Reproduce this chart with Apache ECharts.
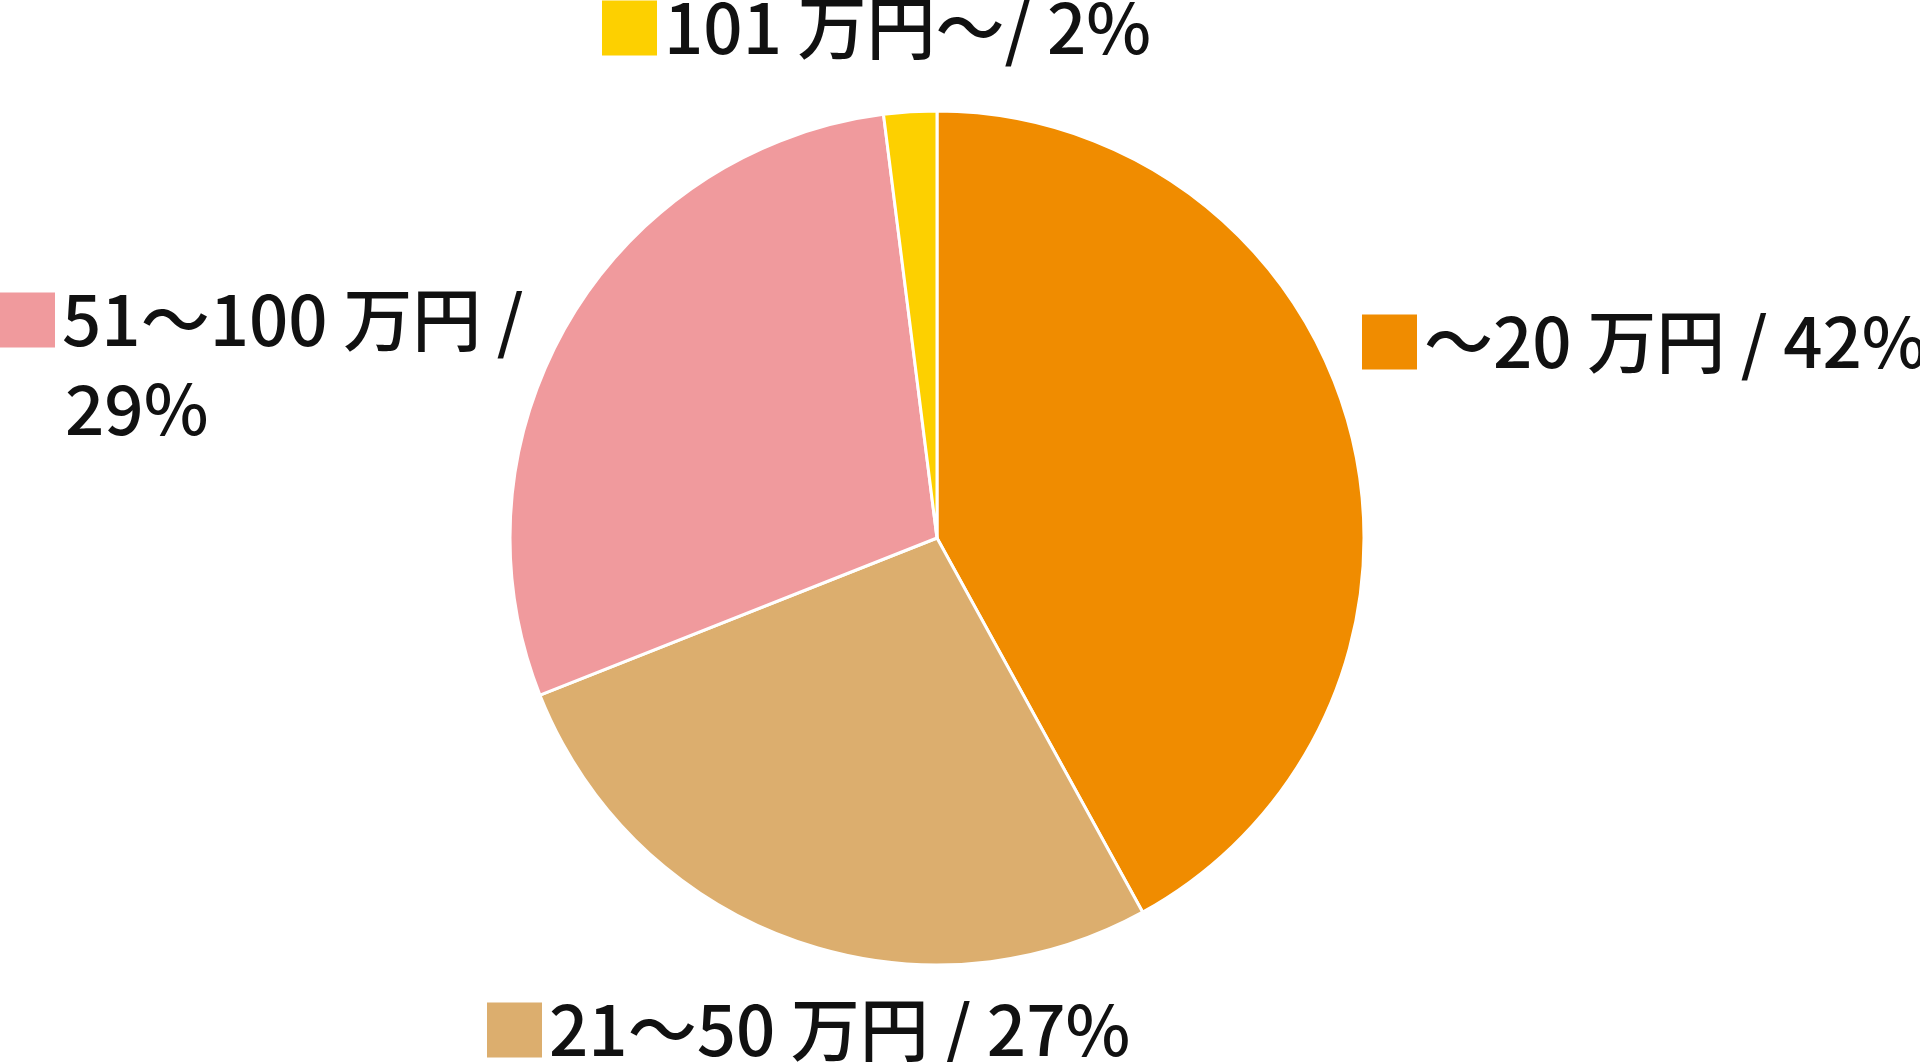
<!DOCTYPE html>
<html>
<head>
<meta charset="utf-8">
<script src="https://cdn.jsdelivr.net/npm/echarts@6/dist/echarts.min.js"></script>
<style>
    html, body {margin: 0; padding: 0; background: #fff;}
    #chart {width: 1920px; height: 1062px;}
</style>
</head>
<body>
<div id="chart"></div>
<script>
    // data
    var categories = ['～20 万円', '21～50 万円', '51～100 万円', '101 万円～'];
    var shares = [42, 27, 29, 2];
    var colors = ['#f08c00', '#dcae6e', '#f09a9d', '#fdd000'];
    // text between name and percentage
    var seps = [' / ', ' / ', ' /\n', '/ '];

    // where each label's colour square sits: [left, square middle]
    var labelAnchors = [[1362, 342], [487, 1030], [0, 320], [602, 28]];
    var lineH = 89;

    var rich = {
        t: {fontSize: 69, lineHeight: lineH, color: '#111', fontWeight: 500, fontFamily: 'Noto Sans CJK JP'},
        sp: {width: 65, height: 10},
        gp: {width: 7, height: 10}
    };
    colors.forEach(function (c, i) {
        rich['sq' + i] = {width: 55, height: 55, backgroundColor: c};
    });

    var chart = echarts.init(document.getElementById('chart'));
    var option = {
        animation: false,
        series: [
            {
                type: 'pie',
                center: [937, 538],
                radius: 427,
                startAngle: 90,
                clockwise: true,
                emphasis: {disabled: true},
                itemStyle: {borderColor: '#fff', borderWidth: 3},
                labelLine: {show: false},
                label: {
                    show: true,
                    overflow: 'none',
                    formatter: function (p) {
                        var s = p.name + seps[p.dataIndex] + p.value + '%';
                        var lines = s.split('\n');
                        var out = '{sq' + p.dataIndex + '|}{gp|}{t|' + lines[0] + '}';
                        for (var k = 1; k < lines.length; k++) {
                            out += '\n{sp|}{t|' + lines[k] + '}';
                        }
                        return out;
                    },
                    rich: rich
                },
                labelLayout: function (p) {
                    var a = labelAnchors[p.dataIndex];
                    return {x: a[0], y: a[1] - lineH / 2, align: 'left', verticalAlign: 'top'};
                },
                data: categories.map(function (name, i) {
                    return {name: name, value: shares[i], itemStyle: {color: colors[i]}};
                })
            }
        ]
    };
    chart.setOption(option);
</script>
</body>
</html>
